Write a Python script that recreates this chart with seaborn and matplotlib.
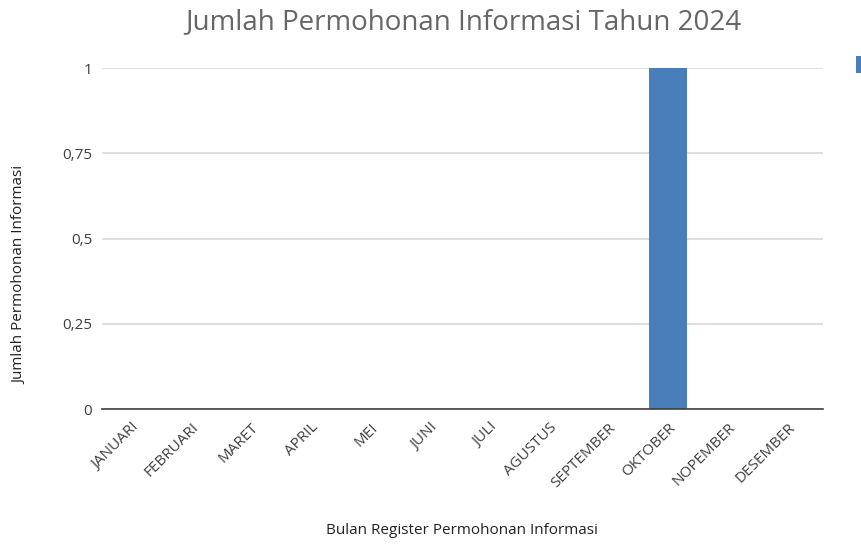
import numpy as np
import pandas as pd
import matplotlib
matplotlib.use("Agg")
import matplotlib.pyplot as plt
import seaborn as sns

months = ["JANUARI", "FEBRUARI", "MARET", "APRIL", "MEI", "JUNI", "JULI",
          "AGUSTUS", "SEPTEMBER", "OKTOBER", "NOPEMBER", "DESEMBER"]
counts = [0, 0, 0, 0, 0, 0, 0, 0, 0, 1, 0, 0]
yticks = [0, 0.25, 0.5, 0.75, 1]
ytick_labels = ["0", "0,25", "0,5", "0,75", "1"]

df = pd.DataFrame({"bulan": months, "jumlah": counts})

sns.set_theme(style="white")
plt.rcParams["font.family"] = ["Open Sans", "DejaVu Sans"]

fig = plt.figure(figsize=(8.61, 5.45), dpi=100)
ax = fig.add_axes([0.1185, 0.2495, 0.8375, 0.6255])

sns.barplot(data=df, x="bulan", y="jumlah", color="#4a7ebb", saturation=1,
            width=0.64, ax=ax, label="Jumlah", linewidth=0)

ax.set_ylim(0, 1)
ax.set_xlim(-0.5, len(months) - 0.4)
ax.set_yticks(yticks)
ax.set_yticklabels(ytick_labels, fontsize=11, color="#404040")
ax.yaxis.grid(True, color="#d9d9d9", linewidth=1.2)
ax.set_axisbelow(True)
for s in ["top", "right", "left"]:
    ax.spines[s].set_visible(False)
ax.spines["bottom"].set_color("#404040")
ax.spines["bottom"].set_linewidth(1.2)
ax.tick_params(axis="y", length=0, pad=7)
ax.tick_params(axis="x", length=0, pad=8)
plt.setp(ax.get_xticklabels(), rotation=45, ha="right", rotation_mode="anchor",
         fontsize=11, color="#404040")

ax.set_xlabel("")
ax.set_ylabel("")
fig.text(0.537, 0.026, "Bulan Register Permohonan Informasi", fontsize=11,
         color="#222222", ha="center", va="center")
fig.text(0.023, 0.495, "Jumlah Permohonan Informasi", fontsize=11, color="#222222",
         ha="center", va="center", rotation=90)
fig.text(0.538, 0.96, "Jumlah Permohonan Informasi Tahun 2024", fontsize=20,
         color="#666666", ha="center", va="center")

ax.legend(loc="upper left", bbox_to_anchor=(0.994, 0.897), bbox_transform=fig.transFigure,
          frameon=False, handlelength=0.8, handleheight=1.7, handletextpad=3,
          fontsize=9, borderpad=0, borderaxespad=0)

fig.savefig("out.png", dpi=100)
